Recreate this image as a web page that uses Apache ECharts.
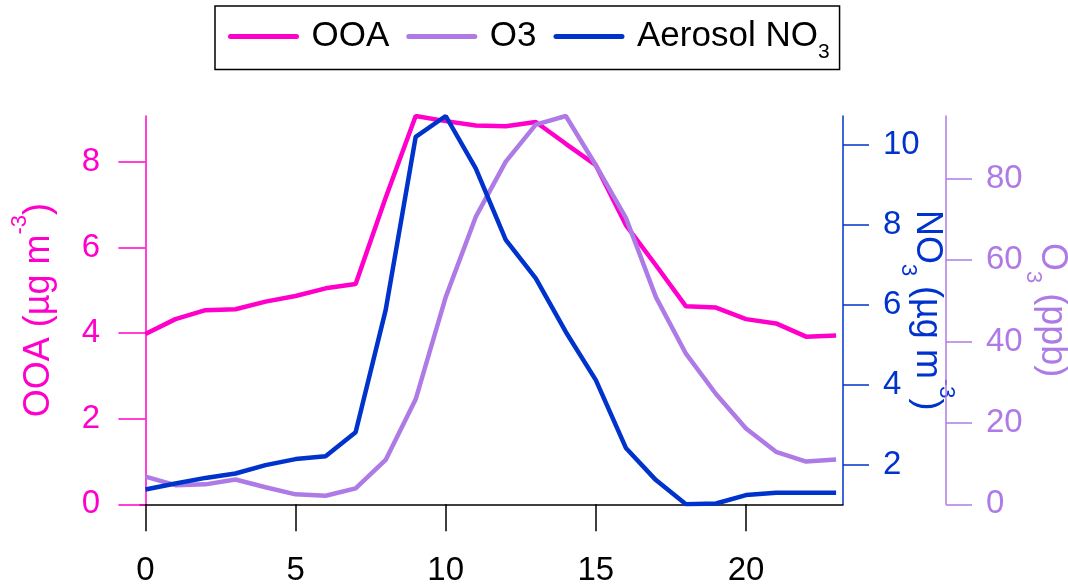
<!DOCTYPE html>
<html>
<head>
<meta charset="utf-8">
<script src="https://cdn.jsdelivr.net/npm/echarts@6/dist/echarts.min.js"></script>
<style>html,body{margin:0;padding:0;background:#fff}#c{width:1068px;height:587px}</style>
</head>
<body>
<div id="c"></div>
<script>
// ---- data ----
const hours = [0,1,2,3,4,5,6,7,8,9,10,11,12,13,14,15,16,17,18,19,20,21,22,23];
const ooa = [3.98,4.33,4.54,4.56,4.74,4.87,5.05,5.15,7.17,9.08,8.96,8.86,8.84,8.94,8.43,7.93,6.53,5.59,4.63,4.60,4.33,4.23,3.92,3.95];
const o3 = [6.8,4.7,4.9,6.1,4.2,2.45,2.1,3.9,10.9,25.8,50.9,70.6,84.2,93.3,95.4,83.3,70.4,50.9,37.0,27.1,18.6,12.9,10.5,11.0];
const no3 = [1.39,1.54,1.68,1.79,2.0,2.15,2.22,2.82,5.875,10.21,10.73,9.42,7.63,6.67,5.33,4.125,2.43,1.625,1.02,1.04,1.25,1.31,1.31,1.31];
const xTicks = [0,5,10,15,20];
const ooaTicks = [0,2,4,6,8];
const no3Ticks = [2,4,6,8,10];
const o3Ticks = [0,20,40,60,80];
const seriesNames = ['OOA','O3','Aerosol NO3'];

const PINK = '#FF00CC', LAV = '#AE7BE6', BLUE = '#0033CC';
const FONT = 'Liberation Sans, Arial, sans-serif';

function titleRich(color){
  return {
    t:{fontSize:36,fontFamily:FONT,color:color,lineHeight:60},
    sup:{fontSize:22,fontFamily:FONT,color:color,lineHeight:22,verticalAlign:'top'},
    sub:{fontSize:22,fontFamily:FONT,color:color,lineHeight:22,verticalAlign:'bottom'}
  };
}

const chart = echarts.init(document.getElementById('c'), null, {renderer:'canvas'});
const option = {
  backgroundColor:'#fff',
  animation:false,
  legend:{
    data:seriesNames,
    left:215, top:6,
    padding:[13,10,7,13],
    borderColor:'#000', borderWidth:1.5,
    itemWidth:66, itemHeight:14, itemGap:17,
    lineStyle:{width:5, cap:'round'},
    itemStyle:{opacity:0},
    formatter:function(n){ return n==='Aerosol NO3' ? '{t|Aerosol NO}{sub|3}' : '{t|'+n+'}'; },
    textStyle:{
      fontSize:35, fontFamily:FONT, color:'#000',
      rich:{
        t:{fontSize:35,fontFamily:FONT,color:'#000',lineHeight:52,padding:[0,0,0,10]},
        sub:{fontSize:21,fontFamily:FONT,color:'#000',lineHeight:21,verticalAlign:'bottom'}
      }
    }
  },
  grid:{left:140, right:225, top:116, height:388.3, containLabel:false, outerBoundsMode:'none'},
  xAxis:{
    type:'value', min:-0.18, max:23.23, offset:6,
    splitLine:{show:false},
    axisLine:{show:true,lineStyle:{color:'#000',width:1.5}},
    axisTick:{show:true,inside:false,length:27,lineStyle:{color:'#000',width:1.5},customValues:xTicks},
    axisLabel:{fontSize:33,fontFamily:FONT,color:'#000',margin:44,customValues:xTicks}
  },
  yAxis:[
    {
      type:'value', position:'left', min:0, max:9.08,
      splitLine:{show:false},
      axisLine:{show:true,lineStyle:{color:PINK,width:1.5}},
      axisTick:{show:true,length:27,lineStyle:{color:PINK,width:1.5},customValues:ooaTicks},
      axisLabel:{fontSize:33,fontFamily:FONT,color:PINK,margin:40,customValues:ooaTicks},
      name:'{t|OOA (µg m}{sup|-3}{t|)}', nameLocation:'middle', nameRotate:90, nameGap:71,
      nameMoveOverlap:false,
      nameTextStyle:{rich:titleRich(PINK)}
    },
    {
      type:'value', position:'right', offset:0, min:1.02, max:10.73,
      splitLine:{show:false},
      axisLine:{show:true,lineStyle:{color:BLUE,width:1.5}},
      axisTick:{show:true,length:26,lineStyle:{color:BLUE,width:1.5},customValues:no3Ticks},
      axisLabel:{fontSize:33,fontFamily:FONT,color:BLUE,margin:40,customValues:no3Ticks},
      name:'{t|NO}{sub|3}{t| (µg m}{sup|-3}{t|)}', nameLocation:'middle', nameRotate:-90, nameGap:54,
      nameMoveOverlap:false,
      nameTextStyle:{rich:titleRich(BLUE)}
    },
    {
      type:'value', position:'right', offset:103, min:0, max:95.4,
      splitLine:{show:false},
      axisLine:{show:true,lineStyle:{color:LAV,width:1.5}},
      axisTick:{show:true,length:26,lineStyle:{color:LAV,width:1.5},customValues:o3Ticks},
      axisLabel:{fontSize:33,fontFamily:FONT,color:LAV,margin:40,customValues:o3Ticks},
      name:'{t|O}{sub|3}{t| (ppb)}', nameLocation:'middle', nameRotate:-90, nameGap:76,
      nameMoveOverlap:false,
      nameTextStyle:{rich:titleRich(LAV)}
    }
  ],
  series:[
    {name:'OOA', type:'line', yAxisIndex:0, data:hours.map((h,i)=>[h,ooa[i]]),
     showSymbol:false, symbol:'none', lineStyle:{color:PINK,width:4.5}, itemStyle:{color:PINK}},
    {name:'O3', type:'line', yAxisIndex:2, data:hours.map((h,i)=>[h,o3[i]]),
     showSymbol:false, symbol:'none', lineStyle:{color:LAV,width:4.5}, itemStyle:{color:LAV}},
    {name:'Aerosol NO3', type:'line', yAxisIndex:1, data:hours.map((h,i)=>[h,no3[i]]),
     showSymbol:false, symbol:'none', lineStyle:{color:BLUE,width:4.5}, itemStyle:{color:BLUE}}
  ]
};
chart.setOption(option);
</script>
</body>
</html>
